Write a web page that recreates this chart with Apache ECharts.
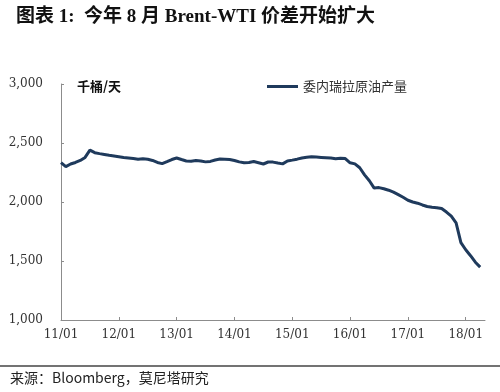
<!DOCTYPE html>
<html><head><meta charset="utf-8">
<script src="https://cdn.jsdelivr.net/npm/echarts@6/dist/echarts.min.js"></script>
<style>html,body{margin:0;padding:0;background:#fff}#c{width:500px;height:392px}</style>
</head><body><div id="c"></div>
<script>
var months = [
'11/01','11/02','11/03','11/04','11/05','11/06','11/07','11/08','11/09','11/10','11/11','11/12',
'12/01','12/02','12/03','12/04','12/05','12/06','12/07','12/08','12/09','12/10','12/11','12/12',
'13/01','13/02','13/03','13/04','13/05','13/06','13/07','13/08','13/09','13/10','13/11','13/12',
'14/01','14/02','14/03','14/04','14/05','14/06','14/07','14/08','14/09','14/10','14/11','14/12',
'15/01','15/02','15/03','15/04','15/05','15/06','15/07','15/08','15/09','15/10','15/11','15/12',
'16/01','16/02','16/03','16/04','16/05','16/06','16/07','16/08','16/09','16/10','16/11','16/12',
'17/01','17/02','17/03','17/04','17/05','17/06','17/07','17/08','17/09','17/10','17/11','17/12',
'18/01','18/02','18/03','18/04','18/05'];
var production = [
2333,2300,2322,2335,2352,2378,2440,2418,2410,2403,2396,2390,
2384,2378,2373,2368,2362,2366,2362,2352,2335,2325,2342,2360,
2373,2360,2348,2346,2352,2348,2340,2344,2356,2365,2363,2360,
2352,2340,2333,2335,2343,2333,2322,2339,2338,2330,2323,2348,
2355,2363,2373,2379,2384,2381,2378,2375,2372,2367,2371,2368,
2332,2323,2290,2230,2180,2118,2122,2112,2100,2083,2062,2040,
2015,2000,1990,1975,1962,1955,1952,1945,1915,1880,1823,1656,
1595,1545,1490,1448];
var yTicks = {min:1000, max:3000, interval:500};
var seriesName = '委内瑞拉原油产量';
var unitLabel = '千桶/天';
var titleText = '图表 1:  今年 8 月 Brent-WTI 价差开始扩大';
var sourceText = '来源：Bloomberg，莫尼塔研究';

var chart = echarts.init(document.getElementById('c'));
chart.setOption({
  animation:false,
  title:{text:titleText,left:11,top:3,textStyle:{fontFamily:'"Liberation Serif","Noto Sans CJK SC",serif',fontWeight:'bold',fontSize:19,color:'#111'}},
  legend:{data:[seriesName],left:262,top:75,icon:'rect',itemWidth:31,itemHeight:3,itemGap:4,
    textStyle:{fontFamily:'"Noto Sans CJK SC",serif',fontSize:13,color:'#333'}},
  grid:{left:61,right:15,top:84,bottom:72},
  xAxis:{type:'category',data:months,boundaryGap:false,
    axisLine:{lineStyle:{color:'#8c8c8c',width:1}},
    axisTick:{inside:true,length:3,interval:11,lineStyle:{color:'#8c8c8c'}},
    axisLabel:{interval:11,margin:9,fontFamily:'"DejaVu Serif",serif',fontSize:12,color:'#333'},
    splitLine:{show:false}},
  yAxis:{type:'value',min:yTicks.min,max:yTicks.max,interval:yTicks.interval,
    axisLine:{show:true,lineStyle:{color:'#8c8c8c',width:1}},
    axisTick:{show:true,inside:true,length:3,lineStyle:{color:'#8c8c8c'}},
    axisLabel:{margin:18,fontFamily:'"DejaVu Serif",serif',fontSize:12,color:'#333',
      formatter:function(v){return v.toLocaleString('en-US');}},
    splitLine:{show:false}},
  series:[{name:seriesName,type:'line',data:production,showSymbol:false,symbol:'none',
    lineStyle:{color:'#1f3a5c',width:3},itemStyle:{color:'#1f3a5c'}}],
  graphic:[
    {type:'text',left:77,top:80,style:{text:unitLabel,font:'bold 13px "Noto Sans CJK SC", sans-serif',fill:'#111'}},
    {type:'line',shape:{x1:0,y1:366,x2:500,y2:366},style:{stroke:'#444',lineWidth:1.5}},
    {type:'text',left:10,top:371,style:{text:sourceText,font:'14px "Noto Sans CJK SC", sans-serif',fill:'#222'}}
  ]
});
</script></body></html>
